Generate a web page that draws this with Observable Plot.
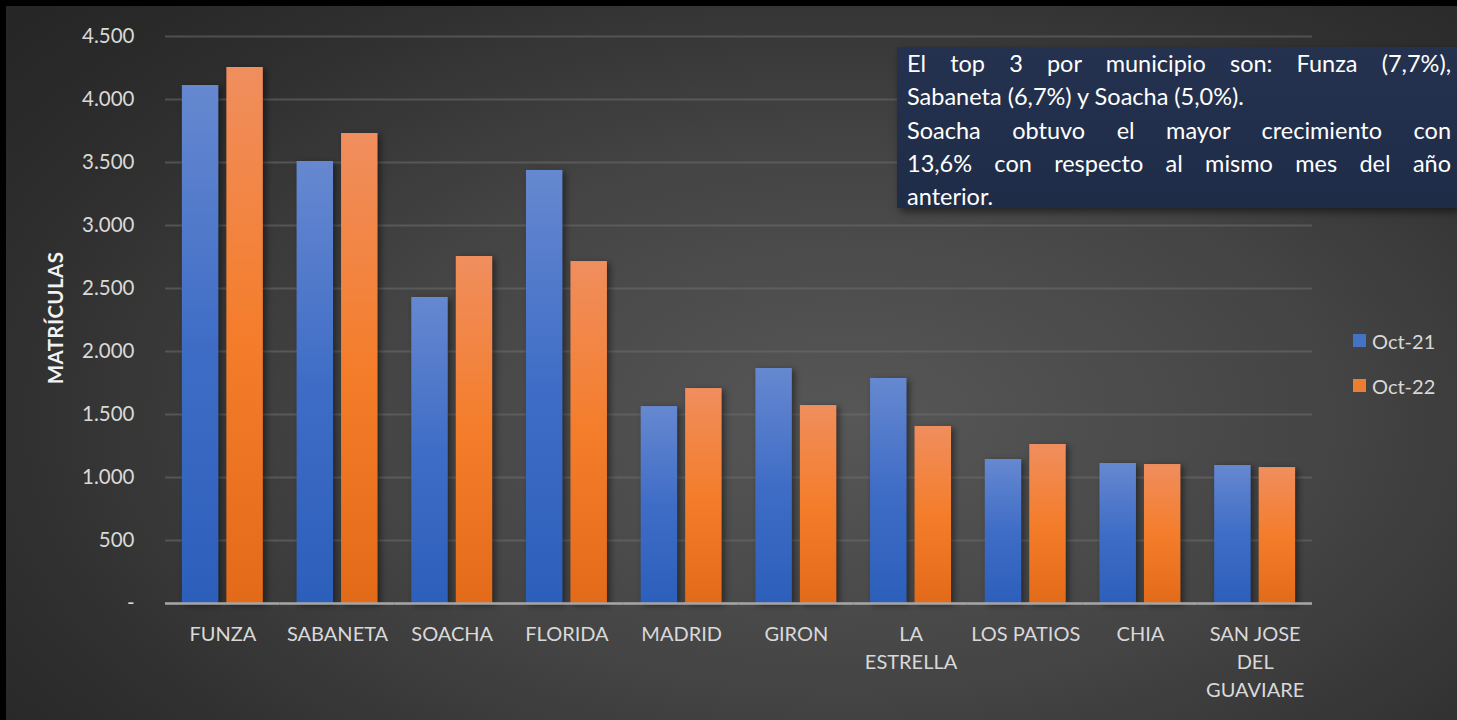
<!DOCTYPE html>
<html>
<head>
<meta charset="utf-8">
<script src="https://cdn.jsdelivr.net/npm/d3@7"></script>
<script src="https://cdn.jsdelivr.net/npm/@observablehq/plot@0.6"></script>
<style>
  html, body { margin: 0; padding: 0; background: #000; width: 1457px; height: 720px; overflow: hidden; }
  #panel {
    position: absolute; left: 6px; top: 6px; width: 1451px; height: 714px;
    background: radial-gradient(ellipse 75% 85% at 58% 58%, #575757 0%, #444 45%, #2e2e2e 80%, #262626 100%);
    font-family: Lato, "Open Sans", sans-serif;
  }
  #chart { position: absolute; left: 0; top: 0; }
  #chart svg g[aria-label="bar"] rect { filter: drop-shadow(3px 2px 3px rgba(0,0,0,0.45)); }
  #ytitle {
    position: absolute; left: 49px; top: 312px; transform: translate(-50%, -50%) rotate(-90deg);
    color: #f2f2f2; font-weight: bold; font-size: 20.5px; white-space: nowrap; letter-spacing: 0.4px;
  }
  #note {
    position: absolute; left: 891px; top: 41px; width: 560px; height: 161px; box-sizing: border-box;
    padding: 0 6px 0 10px;
    background: linear-gradient(180deg, #24324f 0%, #1f2c48 100%);
    box-shadow: 3px 4px 8px rgba(0,0,0,0.5);
    color: #ffffff; font-size: 23.5px; line-height: 33.3px;
  }
  #note .j { display: block; text-align: justify; text-align-last: justify; white-space: nowrap; }
  #note .l { display: block; text-align: left; white-space: nowrap; }
  #legend { position: absolute; left: 1347px; top: 312px; color: #d9d9d9; font-size: 20px; }
  #legend .item { display: flex; align-items: center; height: 45px; }
  #legend .sw { width: 13px; height: 13px; margin-right: 6px; }
</style>
</head>
<body>
<div id="panel">
  <div id="chart"></div>
  <div id="ytitle">MATRÍCULAS</div>
  <div id="note"></div>
  <div id="legend"></div>
</div>
<script>
const categories = ["FUNZA","SABANETA","SOACHA","FLORIDA","MADRID","GIRON","LA ESTRELLA","LOS PATIOS","CHIA","SAN JOSE DEL GUAVIARE"];
const categoryLabels = ["FUNZA","SABANETA","SOACHA","FLORIDA","MADRID","GIRON","LA\nESTRELLA","LOS PATIOS","CHIA","SAN JOSE\nDEL\nGUAVIARE"];
const seriesNames = ["Oct-21","Oct-22"];
const oct21 = [4111,3508,2429,3437,1563,1865,1786,1143,1111,1095];
const oct22 = [4254,3730,2754,2714,1706,1571,1405,1262,1103,1079];
const yTicks = [0,500,1000,1500,2000,2500,3000,3500,4000,4500];
const seriesFills = ["url(#gBlue)","url(#gOrange)"];
const legendColors = ["#4472c4","#ed7d31"];
const noteLines = [
  ["j","El top 3 por municipio son: Funza (7,7%),"],
  ["l","Sabaneta (6,7%) y Soacha (5,0%)."],
  ["j","Soacha obtuvo el mayor crecimiento con"],
  ["j","13,6% con respecto al mismo mes del año"],
  ["l","anterior."]
];

const data = [];
categories.forEach((c, i) => {
  data.push({cat: c, series: seriesNames[0], value: oct21[i]});
  data.push({cat: c, series: seriesNames[1], value: oct22[i]});
});
const labelOf = Object.fromEntries(categories.map((c, i) => [c, categoryLabels[i]]));
const fillOf = Object.fromEntries(seriesNames.map((s, i) => [s, seriesFills[i]]));
const fmt = d => d === 0 ? "-" : d3.format(",")(d).replace(/,/g, ".");

const chart = Plot.plot({
  width: 1451, height: 714,
  marginLeft: 159, marginRight: 145, marginTop: 30, marginBottom: 117,
  style: {background: "transparent", fontFamily: "Lato, 'Open Sans', sans-serif", fontSize: "20px", color: "#d9d9d9"},
  fx: {domain: categories, padding: 0, round: false, label: null, axis: null},
  x: {domain: seriesNames, paddingInner: 0.18, paddingOuter: 0.379, round: false, axis: null},
  y: {domain: [0, 4500], axis: null},
  color: {type: "identity"},
  marks: [
    Plot.gridY(yTicks, {stroke: "#6e6e6e", strokeOpacity: 0.55, strokeWidth: 2}),
    Plot.axisY(yTicks, {tickSize: 0, tickPadding: 31, tickFormat: fmt, fill: "#d9d9d9", fontSize: 20.5, label: null}),
    Plot.barY(data, {fx: "cat", x: "series", y: "value", fill: d => fillOf[d.series]}),
    Plot.ruleY([0], {stroke: "#a6a6a6", strokeWidth: 2.5}),
    Plot.axisFx({anchor: "bottom", tickSize: 0, tickPadding: 17, tickFormat: d => labelOf[d], lineHeight: 1.42, fill: "#d9d9d9", fontSize: 20, label: null})
  ]
});

const defs = document.createElementNS("http://www.w3.org/2000/svg", "defs");
defs.innerHTML = `
  <linearGradient id="gBlue" x1="0" y1="0" x2="0" y2="1">
    <stop offset="0" stop-color="#6688d0"/>
    <stop offset="0.5" stop-color="#3f6dc6"/>
    <stop offset="1" stop-color="#2c5fbb"/>
  </linearGradient>
  <linearGradient id="gOrange" x1="0" y1="0" x2="0" y2="1">
    <stop offset="0" stop-color="#f08e5e"/>
    <stop offset="0.5" stop-color="#f47d2b"/>
    <stop offset="1" stop-color="#e36a18"/>
  </linearGradient>`;
chart.insertBefore(defs, chart.firstChild);
document.getElementById("chart").appendChild(chart);

document.getElementById("note").innerHTML = noteLines.map(([k, t]) => `<span class="${k}">${t}</span>`).join("");
document.getElementById("legend").innerHTML = seriesNames.map((s, i) =>
  `<div class="item"><div class="sw" style="background:${legendColors[i]}"></div><span>${s}</span></div>`).join("");
</script>
</body>
</html>
